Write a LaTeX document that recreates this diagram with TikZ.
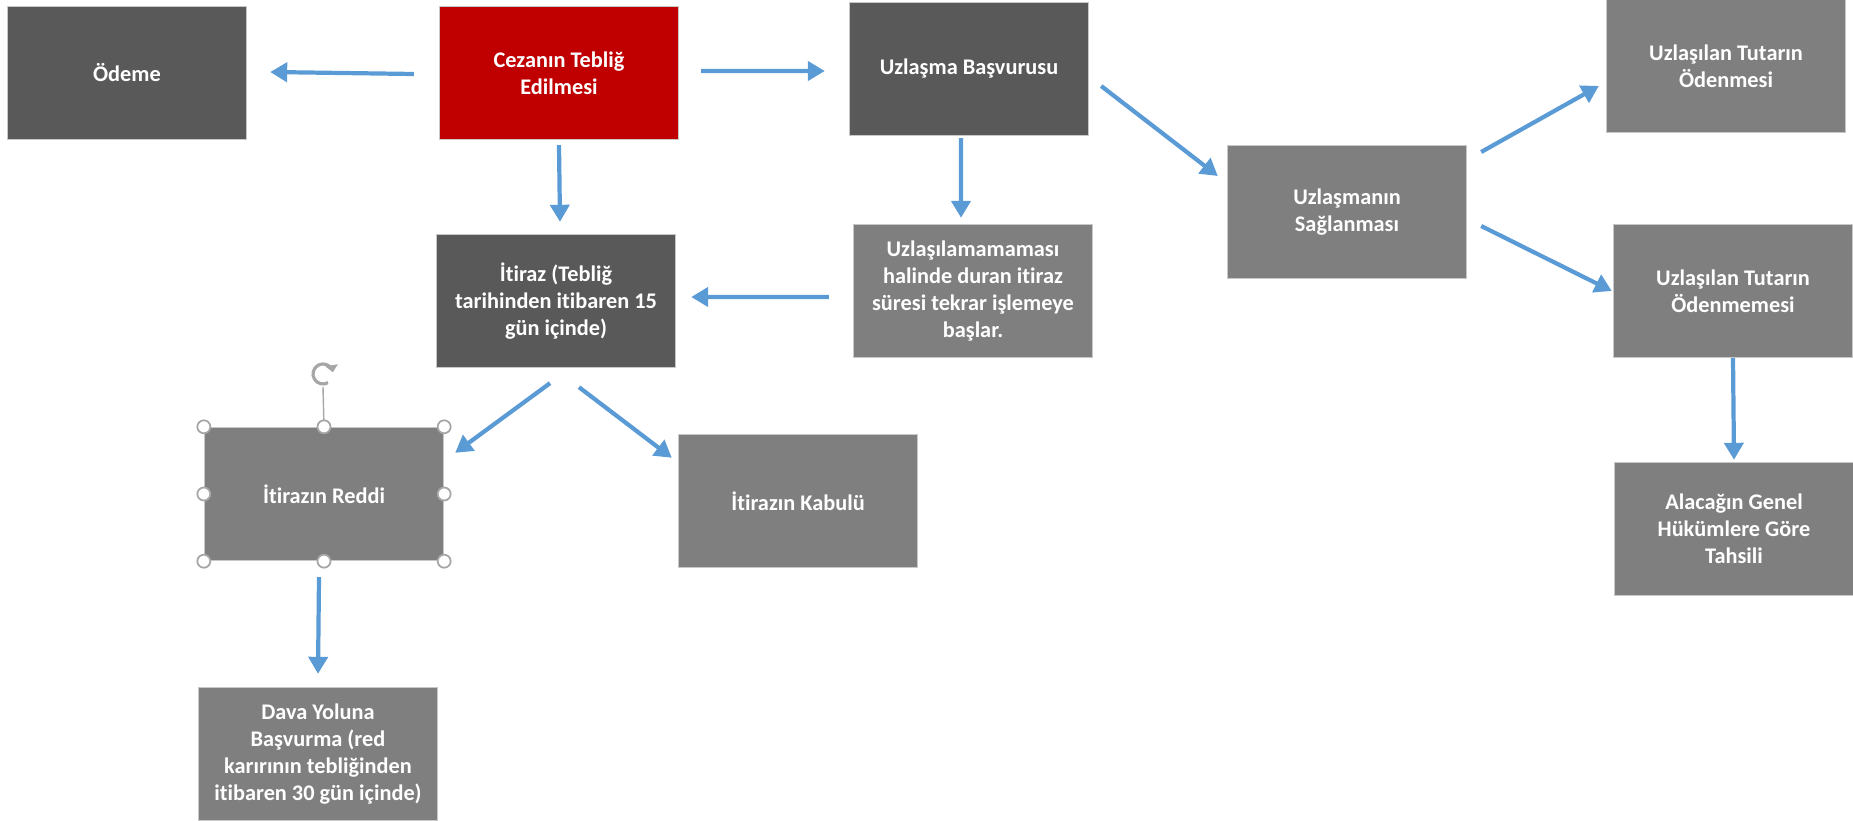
\documentclass[tikz,border=0pt]{standalone}
\usepackage{fontspec}
\setmainfont{Carlito}[Ligatures=NoCommon]
\usepackage{xcolor}
\usetikzlibrary{arrows.meta}
\definecolor{darkbox}{HTML}{595959}
\definecolor{midbox}{HTML}{7F7F7F}
\definecolor{redbox}{HTML}{C00000}
\definecolor{edgegray}{HTML}{C8C8C8}
\definecolor{flowblue}{HTML}{5B9BD5}
\definecolor{handlegray}{HTML}{A6A6A6}

\begin{document}
\begin{tikzpicture}[x=0.02cm,y=-0.02cm,
    box/.style={shape=rectangle,draw=edgegray,line width=0.8pt,fill=midbox,text=white,
        font=\bfseries\fontsize{12.7}{15.4}\selectfont,align=center,
        minimum width=4.78cm,minimum height=2.66cm,inner sep=0pt},
    flow/.style={-{Triangle[width=0.38cm,length=0.34cm]},draw=flowblue,line width=2.4pt},
    handle/.style={shape=circle,draw=handlegray,fill=white,line width=1pt,
        minimum size=0.26cm,inner sep=0pt}]
    \useasboundingbox (0,0) rectangle (1853,821);

    \node[box,fill=darkbox] (odeme) at (127,73) {Ödeme};
    \node[box,fill=redbox] (ceza) at (559,73) {Cezanın Tebliğ\\Edilmesi};
    \node[box,fill=darkbox] (basvuru) at (969,69) {Uzlaşma Başvurusu};
    \node[box] (odenmesi) at (1726,66) {Uzlaşılan Tutarın\\Ödenmesi};
    \node[box] (saglanma) at (1347,212) {Uzlaşmanın\\Sağlanması};
    \node[box] (odenmemesi) at (1733,291) {Uzlaşılan Tutarın\\Ödenmemesi};
    \node[box] (uzlasilamama) at (973,291) {Uzlaşılamamaması\\halinde duran itiraz\\süresi tekrar işlemeye\\başlar.};
    \node[box,fill=darkbox] (itiraz) at (556,301) {İtiraz (Tebliğ\\tarihinden itibaren 15\\gün içinde)};
    \node[box] (reddi) at (324,494) {İtirazın Reddi};
    \node[box] (kabul) at (798,501) {İtirazın Kabulü};
    \node[box] (alacak) at (1734,529) {Alacağın Genel\\Hükümlere Göre\\Tahsili};
    \node[box] (dava) at (318,754) {Dava Yoluna\\Başvurma (red\\karırının tebliğinden\\itibaren 30 gün içinde)};

    \draw [flow] ([xshift=-0.5cm,yshift=-0.02cm]ceza.west) -- ([xshift=0.46cm,yshift=0.02cm]odeme.east);
    \draw [flow] ([xshift=0.44cm,yshift=0.04cm]ceza.east) -- ([xshift=-0.48cm,yshift=-0.04cm]basvuru.west);
    \draw [flow] ([yshift=-0.1cm]ceza.south) -- ([yshift=0.24cm,xshift=0.08cm]itiraz.north);
    \draw [flow] ([xshift=-0.48cm,yshift=-0.12cm]uzlasilamama.west) -- ([xshift=0.3cm,yshift=0.08cm]itiraz.east);
    \draw [flow] ([xshift=-0.16cm,yshift=-0.04cm]basvuru.south) -- ([xshift=-0.24cm,yshift=0.12cm]uzlasilamama.north);
    \draw [flow] ([xshift=0.24cm,yshift=-0.34cm]basvuru.east) -- ([xshift=-0.18cm,yshift=0.72cm]saglanma.west);
    \draw [flow] ([xshift=0.28cm,yshift=1.2cm]saglanma.east) -- ([xshift=-0.14cm,yshift=-0.4cm]odenmesi.west);
    \draw [flow] ([xshift=0.28cm,yshift=-0.28cm]saglanma.east) -- ([xshift=-0.02cm]odenmemesi.west);
    \draw [flow] (odenmemesi.south) -- ([yshift=0.04cm]alacak.north);
    \draw [flow] ([xshift=-0.12cm,yshift=-0.3cm]itiraz.south) -- ([xshift=0.22cm,yshift=-0.52cm]reddi.north east);
    \draw [flow] ([xshift=0.46cm,yshift=-0.38cm]itiraz.south) -- ([xshift=-0.12cm,yshift=-0.48cm]kabul.north west);
    \draw [flow] ([xshift=-0.1cm,yshift=-0.32cm]reddi.south) -- ([yshift=0.26cm]dava.north);

    \coordinate (rot) at (323,374);
    \draw [handlegray,line width=0.8pt] (reddi.north) -- ([yshift=-0.26cm]rot);
    \draw [handlegray,line width=1.8pt,-{Triangle[width=7pt,length=4pt]}] ([shift={(60:10)}]rot) arc[start angle=60,end angle=350,radius=10];
    \foreach \a/\n in {north west/nw,north/n,north east/ne,east/e,south east/se,south/s,south west/sw,west/w}
        \node[handle] (hnd\n) at (reddi.\a) {};
\end{tikzpicture}
\end{document}
